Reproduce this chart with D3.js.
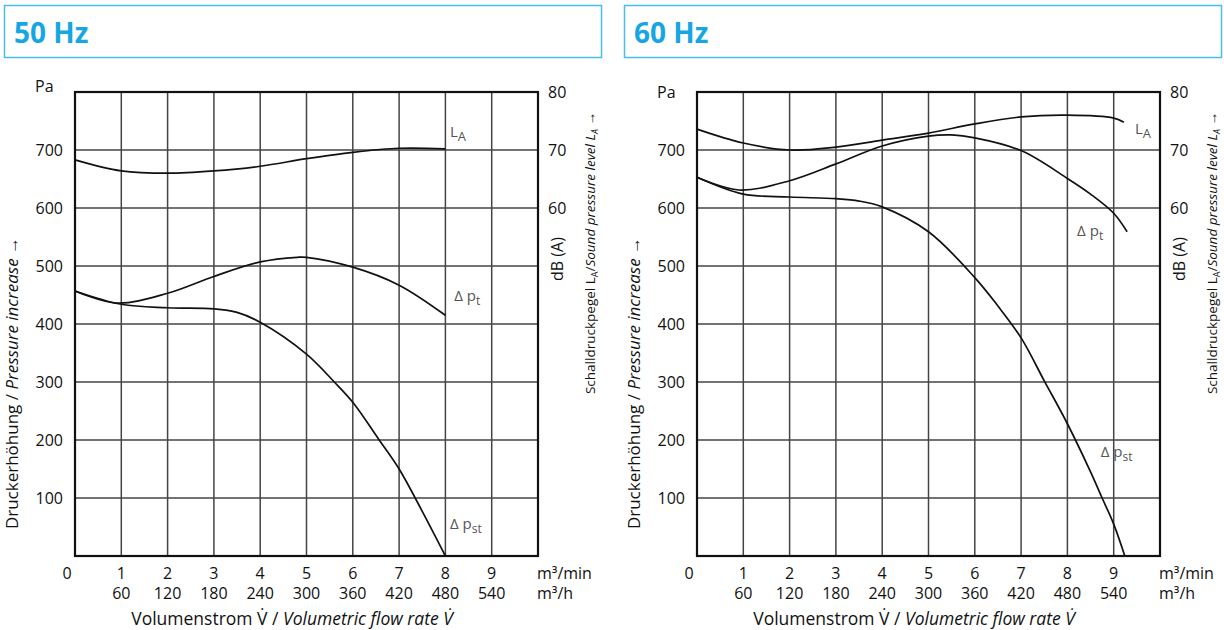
<!DOCTYPE html>
<html lang="de">
<head>
<meta charset="utf-8">
<title>Kennlinien 50 Hz / 60 Hz</title>
<script src="https://cdn.jsdelivr.net/npm/d3@7"></script>
<style>
    body {
        margin: 0;
        background-color: #fff;
    }
    svg {
        font-family: "Open Sans", "Noto Sans", sans-serif;
    }
</style>
</head>
<body>
<svg id="chart" width="1224" height="630"></svg>
<script>
// axis ticks
const flowTicks = [0, 1, 2, 3, 4, 5, 6, 7, 8, 9];
const hourTicks = [60, 120, 180, 240, 300, 360, 420, 480, 540];
const paTicks = [100, 200, 300, 400, 500, 600, 700];
const dbTicks = [60, 70, 80];

// 50 Hz curves, [m³/min, value] (L_A in dB(A), pressures in Pa)
const la50 = [[0, 68.3], [1, 66.4], [2, 66.0], [3, 66.4], [4, 67.2], [5, 68.5], [6, 69.6], [7, 70.3], [8, 70.2]];
const pt50 = [[0, 457], [0.9, 436], [2, 453], [3, 482], [4, 507], [4.8, 515], [5, 515], [6, 498], [7, 467], [8, 415]];
const pst50 = [[0, 457], [1, 434], [2, 428], [3, 426], [3.5, 420], [4, 403], [5, 348], [5.6, 300], [6, 265],
               [6.57, 200], [7, 150], [7.5, 77], [8, 0]];

// 60 Hz curves
const la60 = [[0, 73.6], [1, 71.2], [2, 70.0], [3, 70.5], [4, 71.7], [5, 72.9], [6, 74.5], [7, 75.7], [8, 76.0],
              [9, 75.5], [9.22, 74.8]];
const pt60 = [[0, 653], [0.9, 631], [2, 647], [3, 676], [4, 707], [5, 724], [5.5, 726], [6, 721], [7, 699],
              [8, 651], [8.5, 624], [9, 591], [9.29, 559]];
const pst60 = [[0, 653], [1, 624], [2, 619], [3, 616], [3.5, 612], [4, 602], [5, 559], [6, 480], [6.5, 431],
               [7, 376], [7.5, 302], [8, 228], [8.5, 145], [8.75, 100], [9, 55], [9.24, 0]];

const panels = [
    {title: "50 Hz", dx: 0, paY: 92, la: la50, pt: pt50, pst: pst50,
     labels: {la: [8.1, 722], pt: [8.19, 440], pst: [8.1, 47]}, knockout: false},
    {title: "60 Hz", dx: 622, paY: 98, la: la60, pt: pt60, pst: pst60,
     labels: {la: [9.46, 728], pt: [8.21, 552], pst: [8.72, 171]}, knockout: true}
];

const svg = d3.select("#chart");
const blue = "#16a6e3";
const grey = "#555";

draw_panel = function(p) {
    const g = svg.append("g")
        .attr("transform", `translate(${p.dx}, 0)`);

    // title box
    g.append("rect")
        .attr("x", p.dx ? 2.5 : 4.5)
        .attr("y", 5.5)
        .attr("width", 597)
        .attr("height", 52)
        .attr("fill", "none")
        .attr("stroke", "#49bdec")
        .attr("stroke-width", 1.5);
    g.append("text")
        .attr("x", p.dx ? 12 : 14)
        .attr("y", 43)
        .attr("fill", blue)
        .attr("font-weight", "bold")
        .attr("font-size", "28px")
        .text(p.title);

    const x = d3.scaleLinear().domain([0, 10]).range([75, 538]);
    const y = d3.scaleLinear().domain([0, 800]).range([556, 92]);
    const yDb = d3.scaleLinear().domain([0, 80]).range([556, 92]);

    // grid
    g.append("g")
        .selectAll("line")
        .data(flowTicks.slice(1))
        .join("line")
        .attr("x1", d => x(d))
        .attr("x2", d => x(d))
        .attr("y1", y(800))
        .attr("y2", y(0))
        .attr("stroke", "#444")
        .attr("stroke-width", 1.5);
    g.append("g")
        .selectAll("line")
        .data(paTicks)
        .join("line")
        .attr("x1", x(0))
        .attr("x2", x(10))
        .attr("y1", d => y(d))
        .attr("y2", d => y(d))
        .attr("stroke", "#444")
        .attr("stroke-width", 1.5);

    // frame
    g.append("rect")
        .attr("x", x(0))
        .attr("y", y(800))
        .attr("width", x(10) - x(0))
        .attr("height", y(0) - y(800))
        .attr("fill", "none")
        .attr("stroke", "#111")
        .attr("stroke-width", 2.2);

    // left ticks
    g.append("g")
        .selectAll("text")
        .data(paTicks)
        .join("text")
        .attr("x", 63)
        .attr("y", d => y(d))
        .attr("dy", "0.35em")
        .attr("text-anchor", "end")
        .attr("font-size", "16px")
        .attr("fill", "#111")
        .text(d => d);
    g.append("text")
        .attr("x", 35)
        .attr("y", p.paY)
        .attr("font-size", "16px")
        .attr("fill", "#111")
        .text("Pa");

    // right ticks (dB)
    g.append("g")
        .selectAll("text")
        .data(dbTicks)
        .join("text")
        .attr("x", 548)
        .attr("y", d => yDb(d))
        .attr("dy", "0.35em")
        .attr("font-size", "16px")
        .attr("fill", "#111")
        .text(d => d);

    // x ticks, two rows
    g.append("g")
        .selectAll("text")
        .data(flowTicks)
        .join("text")
        .attr("x", d => d == 0 ? x(d) - 8 : x(d))
        .attr("y", 579)
        .attr("text-anchor", "middle")
        .attr("font-size", "16px")
        .attr("fill", "#111")
        .text(d => d);
    g.append("g")
        .selectAll("text")
        .data(hourTicks)
        .join("text")
        .attr("x", d => x(d / 60))
        .attr("y", 599)
        .attr("text-anchor", "middle")
        .attr("font-size", "16px")
        .attr("fill", "#111")
        .text(d => d);
    g.append("text")
        .attr("x", 537)
        .attr("y", 579)
        .attr("font-size", "16px")
        .attr("fill", "#111")
        .text("m³/min");
    g.append("text")
        .attr("x", 537)
        .attr("y", 599)
        .attr("font-size", "16px")
        .attr("fill", "#111")
        .text("m³/h");

    // axis titles
    const xt = g.append("text")
        .attr("x", 292)
        .attr("y", 625)
        .attr("text-anchor", "middle")
        .attr("font-size", "17.5px")
        .attr("fill", "#111");
    xt.append("tspan").text("Volumenstrom V\u0307 / ");
    xt.append("tspan").attr("font-style", "italic").text("Volumetric flow rate V\u0307");

    const yt = g.append("text")
        .attr("transform", "translate(18, 383) rotate(-90)")
        .attr("text-anchor", "middle")
        .attr("font-size", "17px")
        .attr("fill", "#111");
    yt.append("tspan").text("Druckerhöhung / ");
    yt.append("tspan").attr("font-style", "italic").text("Pressure increase");
    yt.append("tspan").text(" →");

    g.append("text")
        .attr("transform", "translate(563, 259) rotate(-90)")
        .attr("text-anchor", "middle")
        .attr("font-size", "16px")
        .attr("fill", "#111")
        .text("dB (A)");

    const rt = g.append("text")
        .attr("transform", "translate(595, 253) rotate(-90)")
        .attr("text-anchor", "middle")
        .attr("font-size", "13.5px")
        .attr("fill", "#111");
    rt.append("tspan").text("Schalldruckpegel L");
    rt.append("tspan").attr("font-size", "9px").attr("dy", 3).text("A");
    rt.append("tspan").attr("dy", -3).text("/");
    rt.append("tspan").attr("font-style", "italic").text("Sound pressure level L");
    rt.append("tspan").attr("font-style", "italic").attr("font-size", "9px").attr("dy", 3).text("A");
    rt.append("tspan").attr("dy", -3).text(" →");

    // curves
    const line = d3.line()
        .x(d => x(d[0]))
        .y(d => y(d[1]))
        .curve(d3.curveCatmullRom.alpha(0.5));
    const lineDb = d3.line()
        .x(d => x(d[0]))
        .y(d => yDb(d[1]))
        .curve(d3.curveCatmullRom.alpha(0.5));

    g.append("path")
        .attr("d", lineDb(p.la))
        .attr("fill", "none")
        .attr("stroke", "#111")
        .attr("stroke-width", 1.7);
    [p.pt, p.pst].forEach(function(s) {
        g.append("path")
            .attr("d", line(s))
            .attr("fill", "none")
            .attr("stroke", "#111")
            .attr("stroke-width", 1.7);
    });

    // curve labels
    label = function(pos, main, sub, subSize, knock) {
        const t = g.append("text")
            .attr("x", x(pos[0]))
            .attr("y", y(pos[1]))
            .attr("font-size", "15px")
            .attr("fill", grey);
        t.append("tspan").text(main);
        t.append("tspan").attr("font-size", subSize).attr("dy", 4).text(sub);
        if (knock) {
            const b = t.node().getBBox();
            g.insert("rect", "text")
                .attr("x", b.x - 4)
                .attr("y", b.y - 7)
                .attr("width", b.width + 8)
                .attr("height", b.height + 10)
                .attr("fill", "#fff");
        }
    }
    label(p.labels.la, "L", "A", "13px", false);
    label(p.labels.pt, "\u0394 p", "t", "12px", false);
    label(p.labels.pst, "\u0394 p", "st", "12px", p.knockout);
}

panels.forEach(draw_panel);
</script>
</body>
</html>
